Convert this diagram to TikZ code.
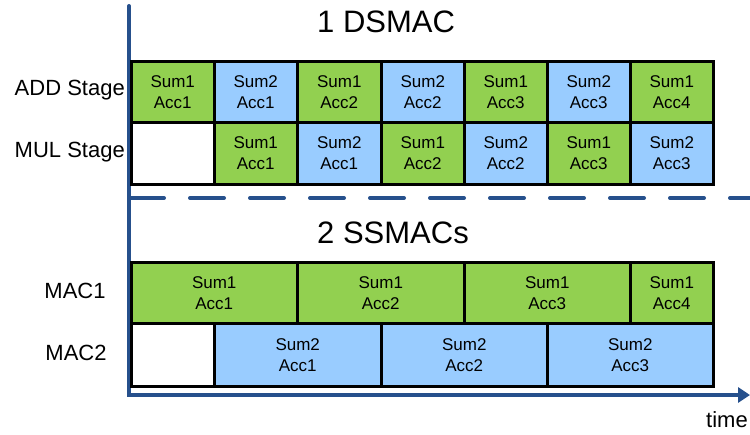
\documentclass[tikz,border=0pt]{standalone}
\usepackage{fontspec}
\setmainfont{Liberation Sans}
\usetikzlibrary{arrows.meta}
\definecolor{cgreen}{HTML}{92D050}
\definecolor{cblue}{HTML}{99CCFF}
\definecolor{caxis}{RGB}{38,80,140}
\tikzset{
  cell/.style={draw=black, line width=2.5pt, inner sep=0pt, anchor=north west, align=center,
    font=\fontsize{17}{21}\selectfont, text=black},
  gcell/.style={cell, fill=cgreen},
  bcell/.style={cell, fill=cblue},
  wcell/.style={cell, fill=white},
  lbl/.style={font=\fontsize{22}{26}\selectfont, inner sep=0pt},
  ttl/.style={font=\fontsize{31}{36}\selectfont, inner sep=0pt},
  axisline/.style={draw=caxis, line width=4pt},
}
\begin{document}
\begin{tikzpicture}[x=1pt,y=-1pt]
\useasboundingbox (0,0) rectangle (750,434);
% axes
\coordinate (top) at (129,6);
\coordinate (orig) at (129,395);
\coordinate (tend) at (750,395);
\coordinate (dstart) at (130,198);
\coordinate (dend) at (750,198);
\draw[axisline, line cap=round, line join=miter, -{Triangle[length=12pt,width=15pt]}] (top) -- (orig) -- (tend);
\draw[axisline, dash pattern=on 34pt off 26pt, line cap=round] (dstart) -- (dend);
% top rows
\node[gcell, minimum width=83pt, minimum height=61pt] (a1) at (130,60) {Sum1\\Acc1};
\node[bcell, minimum width=83pt, minimum height=61pt] (a2) at (213,60) {Sum2\\Acc1};
\node[gcell, minimum width=84pt, minimum height=61pt] (a3) at (296,60) {Sum1\\Acc2};
\node[bcell, minimum width=83pt, minimum height=61pt] (a4) at (380,60) {Sum2\\Acc2};
\node[gcell, minimum width=83pt, minimum height=61pt] (a5) at (463,60) {Sum1\\Acc3};
\node[bcell, minimum width=83pt, minimum height=61pt] (a6) at (546,60) {Sum2\\Acc3};
\node[gcell, minimum width=83pt, minimum height=61pt] (a7) at (629,60) {Sum1\\Acc4};
\node[wcell, minimum width=83pt, minimum height=62pt] (m1) at (130,121) {};
\node[gcell, minimum width=83pt, minimum height=62pt] (m2) at (213,121) {Sum1\\Acc1};
\node[bcell, minimum width=84pt, minimum height=62pt] (m3) at (296,121) {Sum2\\Acc1};
\node[gcell, minimum width=83pt, minimum height=62pt] (m4) at (380,121) {Sum1\\Acc2};
\node[bcell, minimum width=83pt, minimum height=62pt] (m5) at (463,121) {Sum2\\Acc2};
\node[gcell, minimum width=83pt, minimum height=62pt] (m6) at (546,121) {Sum1\\Acc3};
\node[bcell, minimum width=83pt, minimum height=62pt] (m7) at (629,121) {Sum2\\Acc3};
% bottom rows
\node[gcell, minimum width=166pt, minimum height=61pt] (p1) at (130,261) {Sum1\\Acc1};
\node[gcell, minimum width=167pt, minimum height=61pt] (p2) at (296,261) {Sum1\\Acc2};
\node[gcell, minimum width=166pt, minimum height=61pt] (p3) at (463,261) {Sum1\\Acc3};
\node[gcell, minimum width=83pt, minimum height=61pt] (p4) at (629,261) {Sum1\\Acc4};
\node[wcell, minimum width=83pt, minimum height=63pt] (q1) at (130,322) {};
\node[bcell, minimum width=167pt, minimum height=63pt] (q2) at (213,322) {Sum2\\Acc1};
\node[bcell, minimum width=166pt, minimum height=63pt] (q3) at (380,322) {Sum2\\Acc2};
\node[bcell, minimum width=166pt, minimum height=63pt] (q4) at (546,322) {Sum2\\Acc3};
% labels
\node[lbl, anchor=east] (ladd) at (125,90) {ADD Stage};
\node[lbl, anchor=east] (lmul) at (125,152) {MUL Stage};
\node[lbl] (lmac1) at (75,291) {MAC1};
\node[lbl] (lmac2) at (76,353) {MAC2};
\node[ttl, anchor=base west] (t1) at (317,32) {1 DSMAC};
\node[ttl, anchor=base west] (t2) at (317,243) {2 SSMACs};
\node[lbl, anchor=base] (time) at (727,427) {time};
\end{tikzpicture}
\end{document}
